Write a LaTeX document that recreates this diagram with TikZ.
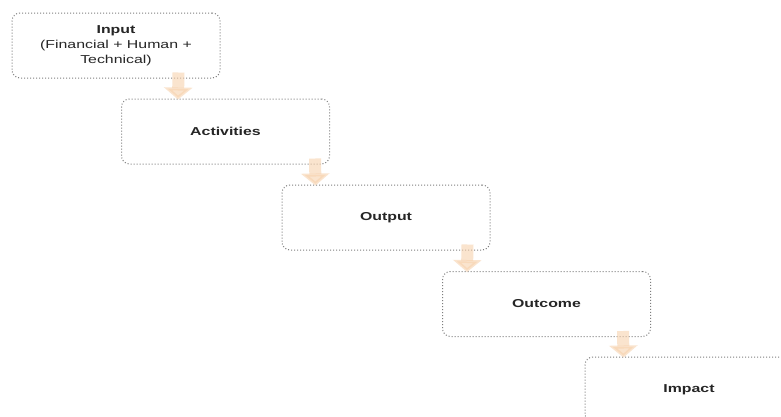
\documentclass[tikz,border=0pt]{standalone}
\usepackage{fontspec}
\setmainfont{Liberation Sans}
\usetikzlibrary{calc,arrows.meta}
\definecolor{peach}{HTML}{F7D2AE}
\definecolor{boxline}{HTML}{7E7E7E}
\newcommand{\wide}[1]{\scalebox{1.38}[1]{#1}}
\tikzset{
  stagebox/.style={draw=boxline, dotted, line width=1pt, rounded corners=8pt, fill=white,
    minimum width=208pt, minimum height=65pt, inner sep=0pt, align=center,
    font=\fontsize{11.5}{15}\selectfont, text=black!85},
  flowarrow/.style={draw=peach, line width=12pt, opacity=0.6,
    -{Triangle[width=28pt,length=12pt]}}
}
\begin{document}
\begin{tikzpicture}[x=1pt,y=-1pt]
\useasboundingbox (0,0) rectangle (781,416);
\clip (0,0) rectangle (781,416);
\fill[white] (0,0) rectangle (781,416);
\node[stagebox] (in) at (116,45.5) {\wide{\textbf{Input}}\\\wide{(Financial + Human +}\\\wide{Technical)}};
\node[stagebox] (act) at (225.5,131.5) {\wide{\textbf{Activities}}};
\node[stagebox] (outp) at (386,217.5) {\wide{\textbf{Output}}};
\node[stagebox] (outc) at (546.5,304) {\wide{\textbf{Outcome}}};
\node[stagebox] (imp) at (689,389.5) {\wide{\textbf{Impact}}};
\draw[flowarrow] ($(in.south east)+(-42,-6)$) -- ($(act.north east)+(-152,1)$);
\draw[flowarrow] ($(act.south east)+(-15,-6)$) -- ($(outp.north east)+(-175,1)$);
\draw[flowarrow] ($(outp.south east)+(-23,-6)$) -- ($(outc.north east)+(-184,1)$);
\draw[flowarrow] ($(outc.south east)+(-28,-6)$) -- ($(imp.north east)+(-170,1)$);
\end{tikzpicture}
\end{document}
